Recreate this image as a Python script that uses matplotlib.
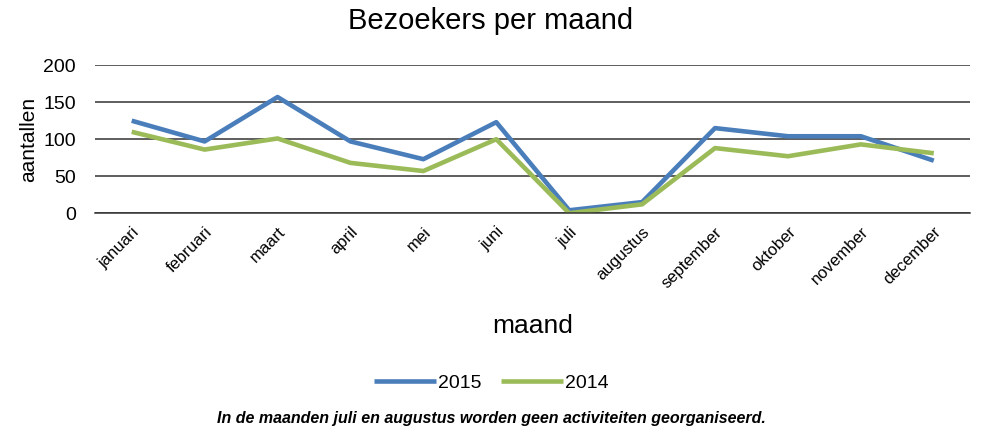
import matplotlib.pyplot as plt
import numpy as np

plt.rcParams['font.family'] = ['Liberation Sans', 'DejaVu Sans']

# Data
maanden = ["januari", "februari", "maart", "april", "mei", "juni",
           "juli", "augustus", "september", "oktober", "november", "december"]
bezoekers_2015 = [125, 97, 157, 97, 73, 123, 4, 15, 115, 104, 104, 71]
bezoekers_2014 = [110, 86, 101, 68, 57, 100, 0, 12, 88, 77, 93, 81]

fig = plt.figure(figsize=(9.82, 4.29), dpi=100)
ax = fig.add_axes([0.097, 0.503, 0.891, 0.345])

x = np.arange(len(maanden))
ax.plot(x, bezoekers_2015, color="#4a7ebb", lw=3.3, label="2015", solid_capstyle="butt")
ax.plot(x, bezoekers_2014, color="#9bbb59", lw=3.3, label="2014", solid_capstyle="butt")

ax.set_xlim(-0.5, len(maanden) - 0.5)
ax.set_ylim(0, 200)
ax.set_yticks([0, 50, 100, 150, 200])
ax.yaxis.grid(True, color="#333333", lw=1.1)
ax.set_axisbelow(True)
for s in ["top", "right", "left"]:
    ax.spines[s].set_visible(False)
ax.spines["bottom"].set_color("#333333")
ax.spines["bottom"].set_linewidth(1.1)
ax.tick_params(axis="both", length=0)
ax.tick_params(axis="y", labelsize=14, pad=14)
ax.set_xticks(x)
ax.set_xticklabels(maanden, rotation=45, ha="right", rotation_mode="anchor", fontsize=12)
ax.tick_params(axis="x", pad=8)

ax.set_ylabel("aantallen", fontsize=15, labelpad=4)
ax.set_xlabel("maand", fontsize=19, labelpad=17)
fig.text(0.5, 0.952, "Bezoekers per maand", ha="center", va="center", fontsize=21)

fig.legend(loc="center", bbox_to_anchor=(0.5, 0.107), ncol=2, frameon=False,
           fontsize=14, handlelength=3.2, columnspacing=1.0, handletextpad=0.1)
fig.text(0.5, 0.025, "In de maanden juli en augustus worden geen activiteiten georganiseerd.",
         ha="center", va="center", fontsize=11.5, fontweight="bold", fontstyle="italic")

fig.savefig("out.png", dpi=100)
